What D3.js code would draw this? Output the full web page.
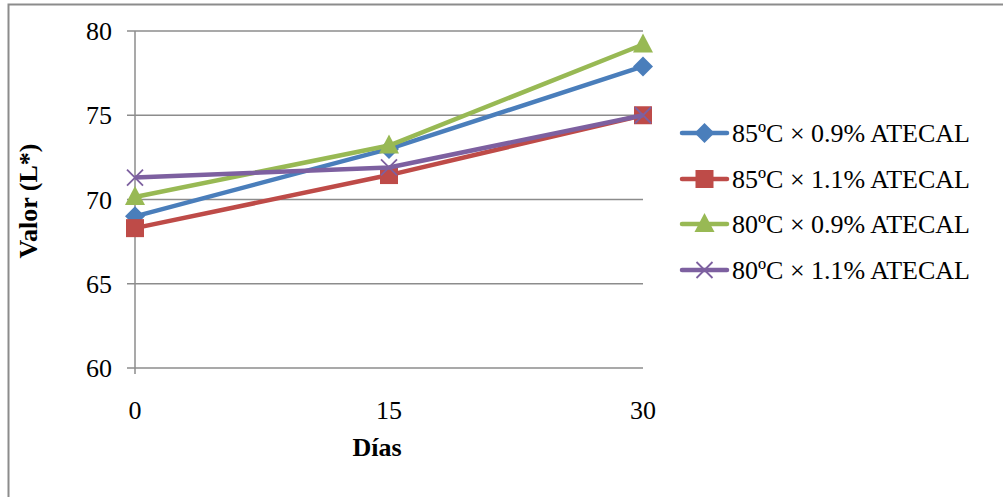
<!DOCTYPE html>
<html>
<head>
<meta charset="utf-8">
<script src="https://cdn.jsdelivr.net/npm/d3@7"></script>
<style>
  body { margin: 0; background: #fff; }
  svg { display: block; font-family: "Liberation Serif", "Times New Roman", serif; }
</style>
</head>
<body>
<svg id="chart" width="1003" height="497"></svg>
<script>
// Days of storage and the L* readings for each treatment
const days = [0, 15, 30];
const seriesNames = ["85ºC × 0.9% ATECAL", "85ºC × 1.1% ATECAL", "80ºC × 0.9% ATECAL", "80ºC × 1.1% ATECAL"];
const s85_09 = [69.0, 73.0, 77.9];
const s85_11 = [68.3, 71.45, 75.0];
const s80_09 = [70.15, 73.2, 79.2];
const s80_11 = [71.3, 71.9, 75.0];
const yTicks = [60, 65, 70, 75, 80];

const colors = ["#4A7EBB", "#BE4B48", "#98B954", "#7D60A0"];
const symbols = ["diamond", "square", "triangle", "x"];
const values = [s85_09, s85_11, s80_09, s80_11];
const fontSize = 26;

const svg = d3.select("#chart");

// outer frame
svg.append("rect").attr("x", 8.5).attr("y", 4.5).attr("width", 1100).attr("height", 1000)
  .attr("fill", "none").attr("stroke", "#8c8c8c").attr("stroke-width", 2);

const x = d3.scaleLinear().domain([0, 30]).range([135, 643]);
const y = d3.scaleLinear().domain([60, 80]).range([368, 31]);

// horizontal gridlines
svg.append("g").selectAll("line").data(yTicks).join("line")
  .attr("x1", 127).attr("x2", 643)
  .attr("y1", d => y(d)).attr("y2", d => y(d))
  .attr("stroke", "#8c8c8c").attr("stroke-width", 1.5);

// y axis line
svg.append("line").attr("x1", x(0)).attr("x2", x(0)).attr("y1", y(80)).attr("y2", y(60) + 6)
  .attr("stroke", "#8c8c8c").attr("stroke-width", 1.5);

// y tick labels
svg.append("g").selectAll("text").data(yTicks).join("text")
  .attr("x", 112).attr("y", d => y(d)).attr("dy", "0.35em")
  .attr("text-anchor", "end").attr("font-size", fontSize).attr("fill", "#000")
  .text(d => d);

// x tick labels
svg.append("g").selectAll("text").data(days).join("text")
  .attr("x", d => x(d)).attr("y", 419)
  .attr("text-anchor", "middle").attr("font-size", fontSize).attr("fill", "#000")
  .text(d => d);

// axis titles
svg.append("text").attr("x", 377).attr("y", 456).attr("text-anchor", "middle")
  .attr("font-size", fontSize).attr("font-weight", "bold").text("Días");
svg.append("text").attr("transform", "translate(37,201) rotate(-90)")
  .attr("text-anchor", "middle").attr("font-size", fontSize).attr("font-weight", "bold").text("Valor (L*)");

function marker(g, type, color) {
  if (type === "diamond") {
    g.append("path").attr("d", "M0,-10L10,0L0,10L-10,0Z").attr("fill", color);
  } else if (type === "square") {
    g.append("rect").attr("x", -9).attr("y", -9).attr("width", 18).attr("height", 18).attr("fill", color);
  } else if (type === "triangle") {
    g.append("path").attr("d", "M0,-11L10,8L-10,8Z").attr("fill", color);
  } else {
    g.append("path").attr("d", "M-8,-8L8,8M-8,8L8,-8").attr("stroke", color).attr("stroke-width", 1.8).attr("fill", "none");
  }
}

const line = d3.line().x((d, i) => x(days[i])).y(d => y(d));

values.forEach((vals, k) => {
  const g = svg.append("g");
  g.append("path").datum(vals).attr("d", line)
    .attr("fill", "none").attr("stroke", colors[k]).attr("stroke-width", 4.5)
    .attr("stroke-linejoin", "round");
  vals.forEach((v, i) => {
    marker(g.append("g").attr("transform", `translate(${x(days[i])},${y(v)})`), symbols[k], colors[k]);
  });
});

// legend
const legendY = [133, 179, 224, 270];
seriesNames.forEach((name, k) => {
  const g = svg.append("g").attr("transform", `translate(682,${legendY[k]})`);
  g.append("line").attr("x1", 0).attr("x2", 45).attr("stroke", colors[k]).attr("stroke-width", 4.5)
    .attr("stroke-linecap", "round");
  marker(g.append("g").attr("transform", "translate(22.5,0)"), symbols[k], colors[k]);
  g.append("text").attr("x", 50).attr("dy", "0.35em").attr("font-size", fontSize).attr("fill", "#000").text(name);
});
</script>
</body>
</html>
